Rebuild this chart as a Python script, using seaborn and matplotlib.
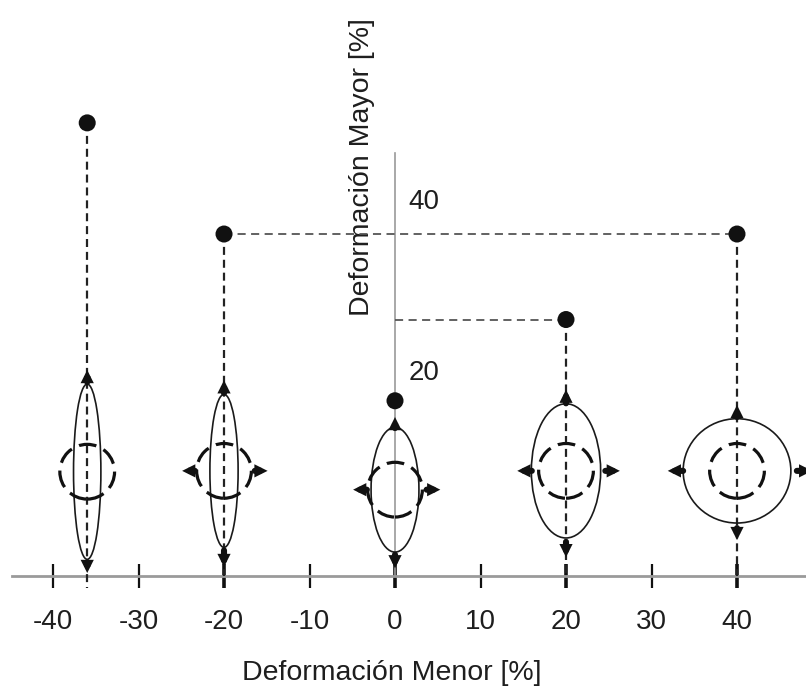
import numpy as np
import pandas as pd
import matplotlib
matplotlib.use("Agg")
import matplotlib.pyplot as plt
from matplotlib.patches import Ellipse
import seaborn as sns

# ---------------- data ----------------
minor_strain = [-36, -20, 0, 20, 40]          # x of each strain state
major_strain = [53, 40, 20.5, 30, 40]          # y of the black limit points
ellipse_cy = [12.2, 12.3, 10.1, 12.3, 12.3]    # centre height of grid ellipses
ellipse_w = [3.2, 3.3, 5.6, 8.1, 12.6]         # deformed ellipse width
ellipse_h = [20.5, 17.9, 14.6, 15.7, 12.2]     # deformed ellipse height
circle_d = 6.4                                 # original circle diameter

# vertical arrows (start, end) in major strain
arrow_up = [(22.7, 24.1), (21.4, 22.9), (17.3, 18.6), (20.2, 21.8), (18.6, 20.0)]
arrow_down = [(1.6, 0.35), (3.0, 1.05), (2.5, 0.9), (4.0, 2.2), (5.6, 4.2)]
# horizontal arrows (start, end) in minor strain, None where absent
arrow_left = [None, (-23.4, -24.9), (-3.3, -4.9), (16.0, 14.3), (33.7, 31.9)]
arrow_right = [None, (-16.4, -14.9), (3.7, 5.3), (24.6, 26.3), (47.0, 48.8)]

x_ticks = [-40, -30, -20, -10, 0, 10, 20, 30, 40]
y_tick_labels = [20, 40]
x_label = "Deformación Menor [%]"
y_label = "Deformación Mayor [%]"

# ---------------- figure ----------------
sns.set_theme(style="white")
plt.rcParams["font.family"] = ["Liberation Sans", "DejaVu Sans"]

fig = plt.figure(figsize=(8.06, 6.93), dpi=100)
ax = fig.add_axes([0, 0, 1, 1])
ax.set_xlim(-46.2, 48.07)
ax.set_ylim(-13.68, 67.37)
ax.set_facecolor("white")

# dashed guide lines
dash_dark = dict(color="#222222", lw=1.6, linestyle=(0, (3.6, 2.2)), zorder=2)
dash_grey = dict(color="#555555", lw=1.3, linestyle=(0, (4.5, 3)), zorder=2)
ax.plot([minor_strain[0]] * 2, [major_strain[0], -1.4], **dash_dark)
ax.plot([minor_strain[1]] * 2, [major_strain[1], 0], **dash_dark)
ax.plot([minor_strain[3]] * 2, [major_strain[3], 0], **dash_dark)
ax.plot([minor_strain[4]] * 2, [major_strain[4], 0], **dash_dark)
ax.plot([minor_strain[1], minor_strain[4]], [major_strain[1], major_strain[4]], **dash_grey)
ax.plot([0, minor_strain[3]], [major_strain[3], major_strain[3]], **dash_grey)

# ellipses and circles
for x, cy, w, h in zip(minor_strain, ellipse_cy, ellipse_w, ellipse_h):
    ax.add_patch(Ellipse((x, cy), w, h, fill=False, ec="#1a1a1a", lw=1.2, zorder=3))
    ax.add_patch(Ellipse((x, cy), circle_d, circle_d, fill=False, ec="#111111",
                         lw=2.3, linestyle=(0, (5.5, 2.5)), zorder=3))

# arrows
def arrow(x0, y0, x1, y1):
    ax.annotate("", xy=(x1, y1), xytext=(x0, y0),
                arrowprops=dict(arrowstyle="-|>", lw=4.4, color="#111111",
                                mutation_scale=6, shrinkA=0, shrinkB=0,
                                joinstyle="miter"),
                zorder=4, annotation_clip=False)

for i, x in enumerate(minor_strain):
    arrow(x, arrow_up[i][0], x, arrow_up[i][1])
    arrow(x, arrow_down[i][0], x, arrow_down[i][1])
    if arrow_left[i] is not None:
        arrow(arrow_left[i][0], ellipse_cy[i], arrow_left[i][1], ellipse_cy[i])
        arrow(arrow_right[i][0], ellipse_cy[i], arrow_right[i][1], ellipse_cy[i])

# limit points
pts = pd.DataFrame({"minor": minor_strain, "major": major_strain})
sns.scatterplot(data=pts, x="minor", y="major", ax=ax, s=150, color="#111111",
                edgecolor="none", zorder=5, legend=False)

# axes lines
for s in ["top", "right"]:
    ax.spines[s].set_visible(False)
ax.spines["bottom"].set_position(("data", 0))
ax.spines["bottom"].set_bounds(-44.8, 48.07)
ax.spines["bottom"].set_color("#9a9a9a")
ax.spines["bottom"].set_linewidth(2.0)
ax.spines["bottom"].set_zorder(1)
ax.spines["left"].set_position(("data", 0))
ax.spines["left"].set_bounds(0, 49.5)
ax.spines["left"].set_color("#9a9a9a")
ax.spines["left"].set_linewidth(1.2)
ax.spines["left"].set_zorder(1)

ax.set_xticks(x_ticks)
ax.set_xticklabels([str(t) for t in x_ticks])
ax.tick_params(axis="x", direction="inout", length=17, width=1.6, color="#111111",
               pad=15, labelsize=20, labelcolor="#1e1e1e", bottom=True)
for t, v in zip(ax.xaxis.get_major_ticks(), x_ticks):
    if v in (-20, 0, 20, 40):
        t.tick1line.set_markeredgewidth(2.6)
ax.set_yticks([])

for v in y_tick_labels:
    ax.annotate(str(v), xy=(0, v), xytext=(9.5, 14), textcoords="offset points",
                fontsize=20, color="#1e1e1e", ha="left", va="bottom")

ax.set_xlabel(x_label, fontsize=20.5, color="#1e1e1e")
ax.xaxis.set_label_coords(392 / 806, 1 - 673 / 693)
ax.xaxis.label.set_verticalalignment("center")
ax.set_ylabel(y_label, fontsize=20.5, color="#1e1e1e")
ax.yaxis.set_label_coords(362 / 806, 1 - 167 / 693)
ax.yaxis.label.set_verticalalignment("center")
ax.yaxis.label.set_horizontalalignment("center")

fig.savefig("out.png", dpi=100, facecolor="white")
